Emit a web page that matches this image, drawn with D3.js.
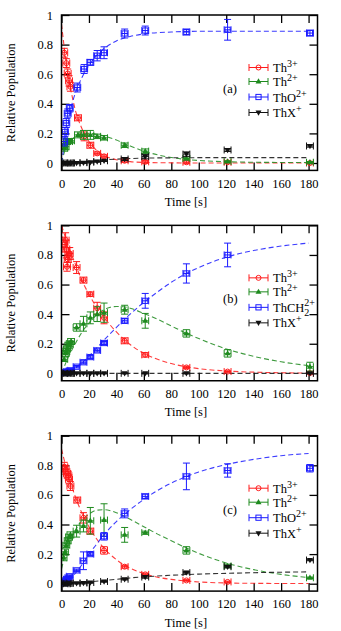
<!DOCTYPE html>
<html><head><meta charset="utf-8">
<script src="https://cdn.jsdelivr.net/npm/d3@7"></script>
<style>
html,body{margin:0;padding:0;background:#fff;}
svg{display:block;}
</style></head>
<body>
<svg id="chart" width="341" height="631"></svg>
<script>
// ---------- data: [time, value, yerr] ----------
const xTicks = [0,20,40,60,80,100,120,140,160,180];
const yTicks = [0,0.2,0.4,0.6,0.8,1];
const panelLabels = ["(a)","(b)","(c)"];

// Panel (a)
const a_th3 = [[2,0.745,0.03],[3.5,0.675,0.03],[4.5,0.605,0.03],[5.5,0.555,0.035],[6.5,0.515,0.03],[12,0.305,0.02],[16.5,0.18,0.03],[21,0.12,0.02],[26,0.065,0.01],[31,0.045,0.01],[46,0.015,0.01],[61,0.008,0.01],[91,0.005,0.01],[121,0.005,0.005],[181,0.0,0.005]];
const a_th2 = [[2,0.10,0.02],[3,0.11,0.02],[4,0.145,0.02],[5.5,0.145,0.015],[7,0.15,0.015],[12,0.19,0.02],[16,0.19,0.03],[21,0.19,0.03],[26,0.18,0.015],[31,0.17,0.015],[46,0.12,0.015],[61,0.08,0.015],[91,0.03,0.01],[121,0.01,0.005],[181,0.005,0.005]];
const a_tho = [[2,0.145,0.03],[2.5,0.21,0.03],[3.5,0.27,0.03],[4.5,0.335,0.03],[6,0.37,0.025],[11.5,0.51,0.03],[16.5,0.635,0.03],[21,0.68,0.02],[26,0.725,0.035],[31,0.745,0.04],[46,0.875,0.03],[61,0.895,0.03],[91,0.885,0.02],[121,0.9,0.07],[181,0.878,0.02]];
const a_thx = [[2,0.0,0.005],[3,-0.002,0.005],[4,0.0,0.005],[5,0.0,0.005],[6,0.0,0.005],[7,0.0,0.005],[11,0.0,0.005],[16,0.002,0.005],[21,0.005,0.005],[26,0.01,0.005],[31,0.015,0.005],[46,0.027,0.01],[61,0.043,0.015],[91,0.06,0.015],[121,0.088,0.01],[181,0.115,0.008]];
const a_th3_fit = [[0,0.94],[2,0.78],[4,0.64],[6,0.53],[8,0.44],[10,0.36],[12,0.3],[15,0.23],[20,0.145],[25,0.09],[30,0.055],[40,0.022],[50,0.009],[60,0.004],[80,0.001],[100,0],[140,0],[180,0]];
const a_th2_fit = [[0,0],[2,0.07],[5,0.13],[10,0.18],[15,0.198],[20,0.2],[25,0.195],[30,0.185],[40,0.155],[50,0.115],[60,0.08],[70,0.055],[80,0.037],[90,0.025],[100,0.017],[120,0.009],[140,0.005],[180,0.003]];
const a_tho_fit = [[0,0],[1,0.06],[2,0.11],[4,0.22],[6,0.33],[8,0.41],[10,0.47],[15,0.58],[20,0.66],[25,0.72],[30,0.765],[40,0.825],[50,0.855],[60,0.872],[80,0.885],[100,0.89],[140,0.89],[180,0.89]];
const a_thx_fit = [[0,0],[10,0.004],[20,0.012],[30,0.02],[40,0.026],[50,0.03],[60,0.033],[80,0.035],[100,0.036],[140,0.036],[180,0.036]];

// Panel (b)
const b_th3 = [[2,0.87,0.05],[3,0.9,0.05],[3.5,0.84,0.06],[4,0.72,0.03],[4.5,0.77,0.05],[5,0.80,0.05],[6,0.81,0.04],[11,0.715,0.04],[16,0.63,0.02],[21,0.535,0.015],[26,0.44,0.04],[31,0.375,0.04],[46,0.22,0.02],[61,0.125,0.015],[91,0.04,0.008],[121,0.012,0.005],[181,0.002,0.005]];
const b_th2 = [[2,0.095,0.015],[3,0.135,0.02],[3.5,0.15,0.02],[4,0.165,0.02],[5,0.19,0.02],[6,0.2,0.02],[7,0.215,0.02],[11,0.31,0.025],[16,0.335,0.05],[21,0.375,0.04],[26,0.40,0.05],[31,0.41,0.065],[46,0.43,0.03],[61,0.355,0.05],[91,0.27,0.025],[121,0.135,0.025],[181,0.045,0.03]];
const b_thch2 = [[2,0.003,0.005],[3,0.006,0.005],[4,0.01,0.005],[5,0.013,0.005],[6,0.017,0.005],[7,0.02,0.005],[11,0.045,0.008],[16,0.075,0.01],[21,0.11,0.01],[26,0.155,0.01],[31,0.205,0.01],[46,0.355,0.015],[61,0.49,0.05],[91,0.675,0.065],[121,0.80,0.08]];
const b_thx = [[2,0,0.004],[3,0,0.004],[4,0,0.004],[5,0,0.004],[6,0,0.004],[7,0,0.004],[11,0,0.004],[16,0,0.004],[21,0,0.004],[26,0,0.004],[31,0,0.004],[46,0,0.004],[61,0,0.004],[91,0,0.004],[181,0,0.004]];
const b_th3_fit = [[0,1.0],[5,0.86],[10,0.74],[15,0.625],[20,0.535],[25,0.455],[30,0.39],[40,0.28],[50,0.195],[60,0.135],[70,0.095],[80,0.066],[90,0.046],[100,0.032],[120,0.016],[140,0.008],[160,0.004],[180,0.002]];
const b_th2_fit = [[0,0],[5,0.11],[10,0.2],[15,0.28],[20,0.34],[25,0.39],[30,0.425],[35,0.445],[40,0.452],[45,0.45],[50,0.44],[60,0.405],[70,0.365],[80,0.32],[90,0.275],[100,0.235],[120,0.165],[140,0.115],[160,0.078],[180,0.052]];
const b_thch2_fit = [[0,0],[5,0.01],[10,0.035],[15,0.07],[20,0.115],[25,0.165],[30,0.215],[40,0.31],[50,0.4],[60,0.48],[70,0.55],[80,0.615],[90,0.67],[100,0.715],[120,0.785],[140,0.83],[160,0.86],[180,0.88]];
const b_thx_fit = [[0,0],[180,0]];

// Panel (c)
const c_th3 = [[2,0.79,0.03],[3,0.77,0.03],[4,0.745,0.03],[5,0.73,0.03],[5.5,0.705,0.03],[6.5,0.66,0.03],[11.5,0.565,0.02],[16,0.445,0.035],[21,0.355,0.02],[31,0.225,0.025],[46,0.115,0.01],[61,0.063,0.008],[91,0.022,0.005],[121,0.012,0.005]];
const c_th2 = [[1.5,0.175,0.02],[2.5,0.215,0.02],[3.5,0.26,0.015],[4.5,0.29,0.02],[5.5,0.315,0.02],[6.5,0.33,0.02],[11,0.355,0.04],[16,0.39,0.04],[21,0.425,0.09],[31,0.43,0.11],[46,0.33,0.05],[61,0.345,0.01],[91,0.225,0.025],[121,0.12,0.012],[181,0.04,0.005]];
const c_tho = [[1.5,0.005,0.005],[2,0.01,0.005],[3,0.02,0.005],[4,0.03,0.005],[5,0.04,0.008],[6,0.05,0.008],[11,0.09,0.008],[16,0.155,0.06],[21,0.2,0.01],[31,0.32,0.025],[46,0.475,0.03],[61,0.59,0.015],[91,0.725,0.09],[121,0.765,0.045],[181,0.78,0.025]];
const c_thx = [[2,0,0.005],[3,0,0.005],[4,0,0.005],[5,0.002,0.005],[6,0.003,0.005],[11,0.003,0.005],[16,0.004,0.005],[21,0.008,0.005],[31,0.015,0.005],[46,0.03,0.005],[61,0.045,0.008],[91,0.075,0.008],[121,0.115,0.008],[181,0.16,0.005]];
const c_th3_fit = [[0,0.91],[5,0.73],[10,0.59],[15,0.475],[20,0.385],[25,0.31],[30,0.25],[40,0.162],[50,0.105],[60,0.068],[70,0.044],[80,0.029],[90,0.019],[100,0.012],[120,0.005],[150,0.002],[180,0.001]];
const c_th2_fit = [[0,0.1],[2.5,0.19],[5,0.26],[10,0.36],[15,0.43],[20,0.47],[25,0.495],[30,0.5],[35,0.495],[40,0.48],[50,0.435],[60,0.385],[70,0.335],[80,0.29],[90,0.245],[100,0.205],[120,0.14],[140,0.095],[160,0.063],[180,0.042]];
const c_tho_fit = [[0,0],[5,0.02],[10,0.07],[15,0.13],[20,0.2],[25,0.26],[30,0.32],[40,0.42],[50,0.5],[60,0.57],[70,0.63],[80,0.68],[90,0.72],[100,0.755],[120,0.805],[140,0.84],[160,0.865],[180,0.88]];
const c_thx_fit = [[0,0],[10,0.004],[20,0.012],[30,0.021],[40,0.03],[50,0.039],[60,0.046],[80,0.057],[100,0.065],[120,0.07],[150,0.076],[180,0.08]];

// legend names: [base, subscript, superscript]
const nameTh3 = ["Th","","3+"], nameTh2 = ["Th","","2+"], nameThO = ["ThO","","2+"], nameThCH2 = ["ThCH","2","2+"], nameThX = ["ThX","","+"];

// ---------- styles ----------
const FONT = '"Liberation Serif", serif';
const COL = {red:"#ff1a1a", green:"#1e8a1e", blue:"#1a1aff", black:"#111111"};
const panels = [
  {label:panelLabels[0], series:[
    {name:nameTh3, color:COL.red, marker:"circle", data:a_th3, fit:a_th3_fit},
    {name:nameTh2, color:COL.green, marker:"tri", data:a_th2, fit:a_th2_fit},
    {name:nameThO, color:COL.blue, marker:"square", data:a_tho, fit:a_tho_fit},
    {name:nameThX, color:COL.black, marker:"tridown", data:a_thx, fit:a_thx_fit}]},
  {label:panelLabels[1], series:[
    {name:nameTh3, color:COL.red, marker:"circle", data:b_th3, fit:b_th3_fit},
    {name:nameTh2, color:COL.green, marker:"tri", data:b_th2, fit:b_th2_fit},
    {name:nameThCH2, color:COL.blue, marker:"square", data:b_thch2, fit:b_thch2_fit},
    {name:nameThX, color:COL.black, marker:"tridown", data:b_thx, fit:b_thx_fit}]},
  {label:panelLabels[2], series:[
    {name:nameTh3, color:COL.red, marker:"circle", data:c_th3, fit:c_th3_fit},
    {name:nameTh2, color:COL.green, marker:"tri", data:c_th2, fit:c_th2_fit},
    {name:nameThO, color:COL.blue, marker:"square", data:c_tho, fit:c_tho_fit},
    {name:nameThX, color:COL.black, marker:"tridown", data:c_thx, fit:c_thx_fit}]}
];

const svg = d3.select("#chart");
const L = 61.5, R = 317.5, H = 155.4;
const tops = [15, 225.35, 435.7];
const XERR = 2.5, CAP = 3.5;
const legendOffsets = [52.5, 66.5, 82, 97.5];

function txt(sel, size){ return sel.style("font-family",FONT).style("font-size",size+"px").attr("fill","#000"); }

function drawMarker(g, type, cx, cy, color){
  if(type==="circle"){
    g.append("circle").attr("cx",cx).attr("cy",cy).attr("r",2.5).attr("fill","none").attr("stroke",color).attr("stroke-width",1);
  } else if(type==="square"){
    g.append("rect").attr("x",cx-2.6).attr("y",cy-2.6).attr("width",5.2).attr("height",5.2).attr("fill","none").attr("stroke",color).attr("stroke-width",1);
  } else if(type==="tri"){
    g.append("path").attr("d",`M${cx},${cy-3.2}L${cx+3},${cy+2}L${cx-3},${cy+2}Z`).attr("fill",color);
  } else {
    g.append("path").attr("d",`M${cx},${cy+3.2}L${cx+3},${cy-2}L${cx-3},${cy-2}Z`).attr("fill",color);
  }
}

panels.forEach((p,i)=>{
  const T = tops[i], B = T + H;
  const x = d3.scaleLinear().domain([0,186.5]).range([L,R]);
  const y = d3.scaleLinear().domain([-0.05,1]).range([B,T]);
  const g = svg.append("g");
  const clipId = "clip"+i;
  g.append("clipPath").attr("id",clipId).append("rect").attr("x",L).attr("y",T).attr("width",R-L).attr("height",H);

  const fmt = d3.format("~g");
  const axB = g.append("g").attr("transform",`translate(0,${B})`).call(d3.axisBottom(x).tickValues(xTicks).tickSizeInner(-8).tickSizeOuter(0).tickPadding(8.5).tickFormat(fmt));
  const axT = g.append("g").attr("transform",`translate(0,${T})`).call(d3.axisTop(x).tickValues(xTicks).tickSizeInner(-8).tickSizeOuter(0).tickFormat(""));
  const axL = g.append("g").attr("transform",`translate(${L},0)`).call(d3.axisLeft(y).tickValues(yTicks).tickSizeInner(-8).tickSizeOuter(0).tickPadding(8.5).tickFormat(fmt));
  const axR = g.append("g").attr("transform",`translate(${R},0)`).call(d3.axisRight(y).tickValues(yTicks).tickSizeInner(-8).tickSizeOuter(0).tickFormat(""));
  [axB,axT,axL,axR].forEach(a=>{
    a.select(".domain").remove();
    a.selectAll(".tick line").attr("stroke","#000").attr("stroke-width",1.3);
    txt(a.selectAll("text"), 12.5);
  });

  const plot = g.append("g").attr("clip-path",`url(#${clipId})`);
  const line = d3.line().x(d=>x(d[0])).y(d=>y(d[1])).curve(d3.curveMonotoneX);
  p.series.forEach(s=>{
    plot.append("path").attr("d",line(s.fit)).attr("fill","none").attr("stroke",s.color)
      .attr("stroke-width",1.1).attr("stroke-dasharray","5,3").attr("opacity",0.85);
  });
  p.series.forEach(s=>{
    s.data.forEach(d=>{
      const cx = x(d[0]), cy = y(d[1]);
      const y1 = y(d[1]-d[2]), y2 = y(d[1]+d[2]);
      const x1 = x(d[0]-XERR), x2 = x(d[0]+XERR);
      const e = plot.append("g").attr("stroke",s.color).attr("stroke-width",1);
      e.append("line").attr("x1",cx).attr("x2",cx).attr("y1",y1).attr("y2",y2);
      e.append("line").attr("x1",cx-CAP).attr("x2",cx+CAP).attr("y1",y1).attr("y2",y1);
      e.append("line").attr("x1",cx-CAP).attr("x2",cx+CAP).attr("y1",y2).attr("y2",y2);
      e.append("line").attr("x1",x1).attr("x2",x2).attr("y1",cy).attr("y2",cy);
      e.append("line").attr("x1",x1).attr("x2",x1).attr("y1",cy-CAP).attr("y2",cy+CAP);
      e.append("line").attr("x1",x2).attr("x2",x2).attr("y1",cy-CAP).attr("y2",cy+CAP);
      drawMarker(plot, s.marker, cx, cy, s.color);
    });
  });

  g.append("rect").attr("x",L).attr("y",T).attr("width",R-L).attr("height",H)
    .attr("fill","none").attr("stroke","#000").attr("stroke-width",1.5);

  // legend
  p.series.forEach((s,k)=>{
    const ly = T + legendOffsets[k];
    const lg = g.append("g");
    const lx1 = 249, lx2 = 268;
    const e = lg.append("g").attr("stroke",s.color).attr("stroke-width",1);
    e.append("line").attr("x1",lx1).attr("x2",lx2).attr("y1",ly).attr("y2",ly);
    e.append("line").attr("x1",lx1).attr("x2",lx1).attr("y1",ly-CAP).attr("y2",ly+CAP);
    e.append("line").attr("x1",lx2).attr("x2",lx2).attr("y1",ly-CAP).attr("y2",ly+CAP);
    drawMarker(lg, s.marker, (lx1+lx2)/2, ly, s.color);
    const t = txt(lg.append("text").attr("x",273).attr("y",ly+4.5), 12.5);
    t.append("tspan").text(s.name[0]);
    if(s.name[1] && s.name[2]){
      const base = t.node().getComputedTextLength();
      txt(lg.append("text").attr("x",273+base).attr("y",ly-1.5), 10).text(s.name[2]);
      txt(lg.append("text").attr("x",273+base).attr("y",ly+9), 10).text(s.name[1]);
    } else {
      t.append("tspan").attr("dy",-5).style("font-size","10px").text(s.name[2]);
    }
  });
  txt(g.append("text").attr("x",223).attr("y",T+78), 12.5).text(p.label);

  txt(g.append("text").attr("x",186).attr("y",T+191).attr("text-anchor","middle"), 12.5).text("Time [s]");
  txt(g.append("text").attr("transform",`translate(15,${(T+B)/2}) rotate(-90)`).attr("text-anchor","middle"), 12.5).text("Relative Population");
});
</script>
</body></html>
